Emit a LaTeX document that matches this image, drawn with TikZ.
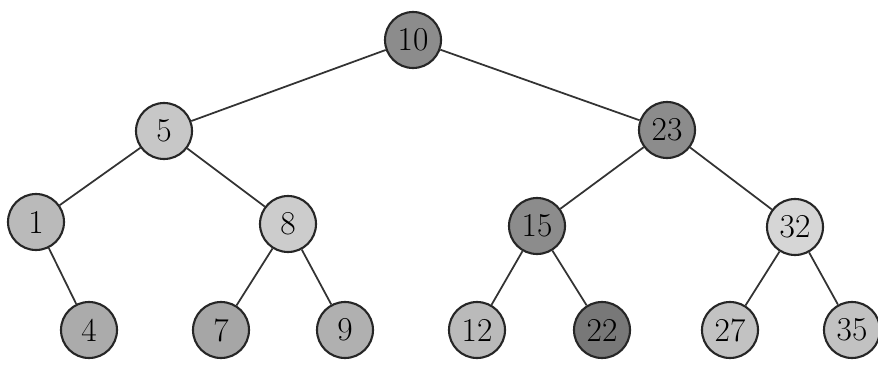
\documentclass[tikz,border=0pt]{standalone}
\usepackage{tikz}
\usetikzlibrary{calc, shapes}
\tikzstyle{treenode} = [circle, draw=black!85, line width=1.2pt, minimum size=1.12cm, inner sep=0pt, font=\fontsize{19}{21}\selectfont]
\tikzstyle{treeedge} = [draw=black!80, line width=1pt]

\begin{document}
\begin{tikzpicture}
        \useasboundingbox (0, 0) rectangle (17.56, 7.3);

        \node[treenode, fill=black!45] at (8.26, 6.5) (n10) {10};
        \node[treenode, fill=black!22] at (3.28, 4.68) (n5) {5};
        \node[treenode, fill=black!45] at (13.34, 4.7) (n23) {23};

        \node[treenode, fill=black!27] at (0.72, 2.86) (n1) {1};
        \node[treenode, fill=black!20] at (5.76, 2.82) (n8) {8};
        \node[treenode, fill=black!45] at (10.74, 2.78) (n15) {15};
        \node[treenode, fill=black!16] at (15.9, 2.76) (n32) {32};

        \node[treenode, fill=black!33] at (1.78, 0.7) (n4) {4};
        \node[treenode, fill=black!35] at (4.42, 0.7) (n7) {7};
        \node[treenode, fill=black!31] at (6.9, 0.7) (n9) {9};
        \node[treenode, fill=black!27] at (9.54, 0.7) (n12) {12};
        \node[treenode, fill=black!53] at (12.04, 0.7) (n22) {22};
        \node[treenode, fill=black!24] at (14.6, 0.7) (n27) {27};
        \node[treenode, fill=black!24] at (17.04, 0.7) (n35) {35};

        \draw[treeedge] (n10) -- (n5);
        \draw[treeedge] (n10) -- (n23);
        \draw[treeedge] (n5) -- (n1);
        \draw[treeedge] (n5) -- (n8);
        \draw[treeedge] (n23) -- (n15);
        \draw[treeedge] (n23) -- (n32);
        \draw[treeedge] (n1) -- (n4);
        \draw[treeedge] (n8) -- (n7);
        \draw[treeedge] (n8) -- (n9);
        \draw[treeedge] (n15) -- (n12);
        \draw[treeedge] (n15) -- (n22);
        \draw[treeedge] (n32) -- (n27);
        \draw[treeedge] (n32) -- (n35);
    \end{tikzpicture}
\end{document}
